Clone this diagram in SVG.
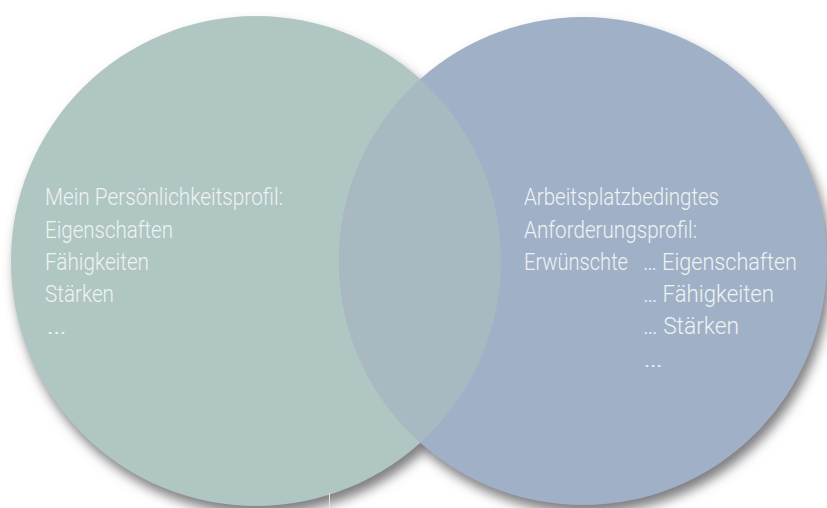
<svg xmlns="http://www.w3.org/2000/svg" width="827" height="508" viewBox="0 0 827 508">
  <defs>
    <filter id="shadow" x="-10%" y="-10%" width="125%" height="125%">
      <feGaussianBlur in="SourceAlpha" stdDeviation="6"/>
      <feOffset dx="4" dy="8" result="b"/>
      <feFlood flood-color="#66666a" flood-opacity="0.85"/>
      <feComposite in2="b" operator="in"/>
    </filter>
    <clipPath id="clipLeft">
      <circle cx="256" cy="261" r="245"/>
    </clipPath>
  </defs>
  <style>
    .lbl { font-family: Roboto, "Liberation Sans", sans-serif; font-weight: 300; font-size: 24px; fill: #eef3f3; }
  </style>
  <rect x="0" y="0" width="827" height="508" fill="#ffffff"/>
  <g id="shadows" filter="url(#shadow)">
    <circle cx="256" cy="261" r="245" fill="#000"/>
    <circle cx="583" cy="261" r="244" fill="#000"/>
  </g>
  <g id="left-node">
    <circle cx="256" cy="261" r="245" fill="#b0c6c3"/>
  </g>
  <g id="right-node">
    <circle cx="583" cy="261" r="244" fill="#a0b0c6"/>
  </g>
  <g id="overlap">
    <circle cx="583" cy="261" r="244" fill="#a8b9c2" clip-path="url(#clipLeft)"/>
  </g>
  <g id="left-text">
    <text class="lbl" x="45" y="205" textLength="238" lengthAdjust="spacingAndGlyphs">Mein Persönlichkeitsprofil:</text>
    <text class="lbl" x="45" y="237.5" textLength="128" lengthAdjust="spacingAndGlyphs">Eigenschaften</text>
    <text class="lbl" x="45" y="270" textLength="104" lengthAdjust="spacingAndGlyphs">Fähigkeiten</text>
    <text class="lbl" x="45" y="302" textLength="69" lengthAdjust="spacingAndGlyphs">Stärken</text>
    <text class="lbl" x="46" y="334" textLength="21" lengthAdjust="spacingAndGlyphs">…</text>
  </g>
  <g id="right-text">
    <text class="lbl" x="524" y="205" textLength="195" lengthAdjust="spacingAndGlyphs">Arbeitsplatzbedingtes</text>
    <text class="lbl" x="524" y="237.5" textLength="173" lengthAdjust="spacingAndGlyphs">Anforderungsprofil:</text>
    <text class="lbl" x="524" y="270" textLength="104" lengthAdjust="spacingAndGlyphs">Erwünschte</text>
    <text class="lbl" x="643" y="270" textLength="154" lengthAdjust="spacingAndGlyphs">… Eigenschaften</text>
    <text class="lbl" x="643" y="302" textLength="131" lengthAdjust="spacingAndGlyphs">… Fähigkeiten</text>
    <text class="lbl" x="643" y="334" textLength="96" lengthAdjust="spacingAndGlyphs">… Stärken</text>
    <text class="lbl" x="643" y="366.5" textLength="20" lengthAdjust="spacingAndGlyphs">…</text>
  </g>
  <g id="connectors">
    <line x1="329.5" y1="493" x2="329.5" y2="508" stroke="#e4e4e6" stroke-width="1"/>
  </g>
</svg>
